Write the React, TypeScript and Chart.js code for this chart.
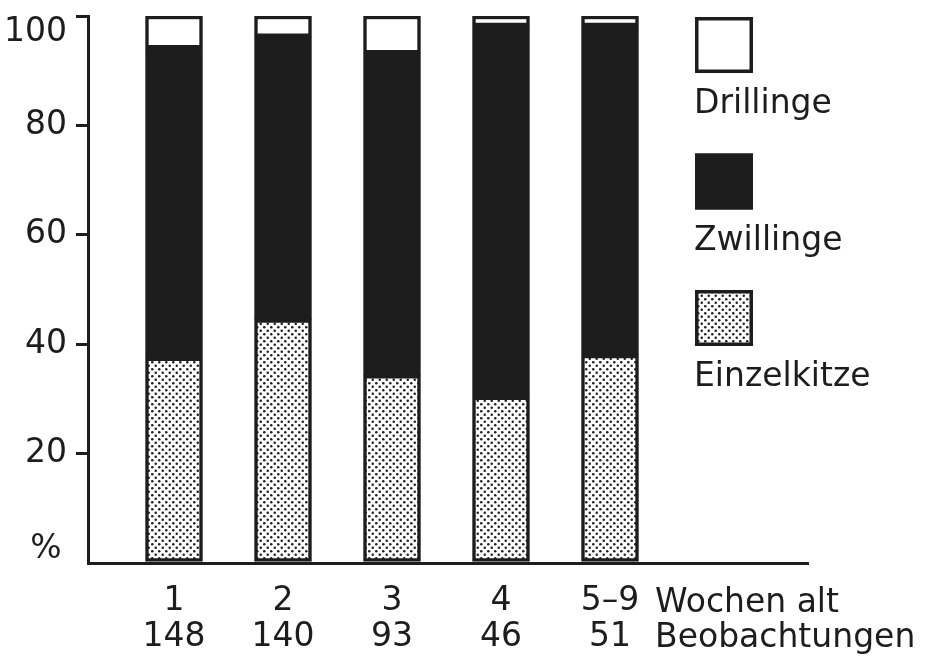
import React, { useEffect, useRef } from 'react';
import { Chart, registerables } from 'chart.js';

Chart.register(...registerables);

// ---- data ----
const weeks = ['1', '2', '3', '4', '5–9'];
const observations = ['148', '140', '93', '46', '51'];
const einzelkitze = [37.5, 44.5, 34.3, 30.4, 38.0];
const zwillinge = [56.6, 51.7, 58.9, 67.8, 60.2];
const drillinge = [5.9, 3.8, 6.8, 1.8, 1.8];
const seriesNames = ['Einzelkitze', 'Zwillinge', 'Drillinge'];
const yTickValues = [0, 20, 40, 60, 80, 100];
const xUnitLabel = 'Wochen alt';
const xCountLabel = 'Beobachtungen';
const yUnitLabel = '%';

const INK = '#1d1d1d';
const PAPER = '#ffffff';
const FONT = '"DejaVu Sans", sans-serif';
const FS = 33;

function makeDotPattern(): CanvasPattern | string {
  const c = document.createElement('canvas');
  c.width = 7;
  c.height = 7;
  const g = c.getContext('2d');
  if (!g) return '#888';
  g.fillStyle = PAPER;
  g.fillRect(0, 0, 7, 7);
  g.fillStyle = INK;
  for (const [px, py] of [[1.75, 1.75], [5.25, 5.25]]) {
    g.beginPath();
    g.arc(px, py, 1.25, 0, Math.PI * 2);
    g.fill();
  }
  return g.createPattern(c, 'repeat') || '#888';
}

export default function App() {
  const ref = useRef<HTMLCanvasElement | null>(null);

  useEffect(() => {
    if (!ref.current) return;
    const dots = makeDotPattern();
    const fills = [dots, INK, PAPER];
    const seriesData = [einzelkitze, zwillinge, drillinge];

    const extras = {
      id: 'extras',
      afterDraw(chart: any) {
        const { ctx, chartArea, scales } = chart;
        ctx.save();
        ctx.fillStyle = INK;
        ctx.font = `${FS}px ${FONT}`;

        // y tick labels
        ctx.textAlign = 'right';
        ctx.textBaseline = 'middle';
        yTickValues.forEach((v) => {
          if (v === 0) return;
          const py = Math.max(scales.y.getPixelForValue(v), chartArea.top + 16);
          ctx.fillText(String(v), 67, py);
        });

        ctx.textAlign = 'center';
        ctx.fillText(yUnitLabel, 46, chartArea.bottom - 14);

        const x5 = scales.x.getPixelForValue(weeks.length);
        ctx.textAlign = 'left';
        ctx.fillText(xUnitLabel, x5 + 45, chartArea.bottom + 40);
        ctx.fillText(xCountLabel, x5 + 45, chartArea.bottom + 75);

        // legend (top to bottom: Drillinge, Zwillinge, Einzelkitze)
        const left = 695;
        const boxW = 58;
        const boxH = 56;
        const order = [2, 1, 0];
        order.forEach((di, k) => {
          const top = 17 + k * 136.5;
          ctx.fillStyle = fills[di] as any;
          ctx.fillRect(left, top, boxW, boxH);
          ctx.strokeStyle = INK;
          ctx.lineWidth = 3.5;
          ctx.strokeRect(left + 1.75, top + 1.75, boxW - 3.5, boxH - 3.5);
          ctx.fillStyle = INK;
          ctx.textAlign = 'left';
          ctx.textBaseline = 'alphabetic';
          ctx.fillText(chart.data.datasets[di].label, left - 1, top + 96);
        });
        ctx.restore();
      },
    };

    const chart = new Chart(ref.current, {
      type: 'bar',
      data: {
        datasets: seriesNames.map((name, di) => ({
          label: name,
          data: seriesData[di].map((v, i) => ({ x: i + 1, y: v })),
          backgroundColor: fills[di] as any,
          borderColor: INK,
          borderWidth: 3.5,
          borderSkipped: false,
          barThickness: 57,
          stack: 'all',
        })),
      },
      options: {
        responsive: false,
        animation: false,
        layout: { padding: { top: 16, right: 117, left: 0, bottom: 0 } },
        plugins: {
          legend: { display: false },
          tooltip: { enabled: false },
        },
        scales: {
          x: {
            type: 'linear',
            stacked: true,
            offset: false,
            min: 1 - 86 / 109,
            max: 1 - 86 / 109 + 720 / 109,
            afterBuildTicks: (scale: any) => {
              scale.ticks = weeks.map((_, i) => ({ value: i + 1 }));
            },
            afterFit: (scale: any) => {
              scale.height = 96;
            },
            grid: { display: false, drawTicks: false },
            border: { display: true, color: INK, width: 3 },
            ticks: {
              padding: 21,
              color: INK,
              font: { family: FONT, size: FS, lineHeight: 1.08 },
              maxRotation: 0,
              autoSkip: false,
              callback: (v: any) => {
                const i = Math.round(Number(v)) - 1;
                return [weeks[i], observations[i]];
              },
            },
          },
          y: {
            stacked: true,
            min: 0,
            max: 100,
            afterBuildTicks: (scale: any) => {
              scale.ticks = yTickValues.map((v) => ({ value: v }));
            },
            afterFit: (scale: any) => {
              scale.width = 88;
            },
            grid: {
              drawOnChartArea: false,
              drawTicks: true,
              tickLength: 12,
              lineWidth: 3,
              tickColor: (c: any) => (c.tick && c.tick.value === 0 ? 'rgba(0,0,0,0)' : INK),
            },
            border: { display: true, color: INK, width: 3 },
            ticks: { display: false },
          },
        },
      },
      plugins: [extras],
    });

    return () => chart.destroy();
  }, []);

  return (
    <div style={{ position: 'fixed', left: 0, top: 0, width: 925, height: 659, background: PAPER }}>
      <canvas ref={ref} width={925} height={659} style={{ display: 'block' }} />
    </div>
  );
}
